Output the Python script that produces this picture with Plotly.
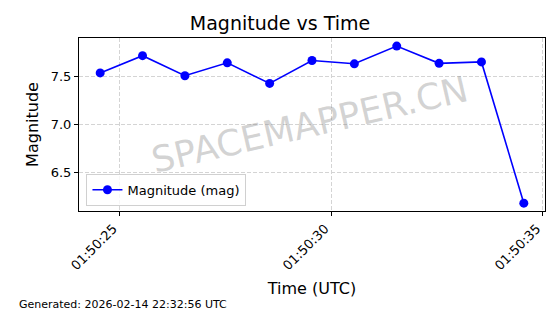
import plotly.graph_objects as go

times = ["2026-02-14 01:50:24.550", "2026-02-14 01:50:25.550", "2026-02-14 01:50:26.550",
         "2026-02-14 01:50:27.550", "2026-02-14 01:50:28.550", "2026-02-14 01:50:29.550",
         "2026-02-14 01:50:30.550", "2026-02-14 01:50:31.550", "2026-02-14 01:50:32.550",
         "2026-02-14 01:50:33.550", "2026-02-14 01:50:34.550"]
magnitude = [7.54, 7.72, 7.51, 7.645, 7.43, 7.67, 7.635, 7.82, 7.64, 7.655, 6.177]
y_ticks = [6.5, 7.0, 7.5]
y_tick_labels = ["6.5", "7.0", "7.5"]

font = "DejaVu Sans"
fig = go.Figure()
fig.add_trace(go.Scatter(
    x=times, y=magnitude, mode="lines+markers", name="Magnitude (mag)",
    line=dict(color="#0000ff", width=1.6),
    marker=dict(color="#0000ff", size=9),
))

fig.update_layout(
    width=560, height=314,
    margin=dict(l=79, r=15, t=38, b=103),
    paper_bgcolor="white", plot_bgcolor="white",
    font=dict(family=font, color="black"),
    title=dict(text="Magnitude vs Time", x=0.5, xanchor="center", y=0.925, yanchor="middle",
               font=dict(size=19, family=font)),
    showlegend=True,
    legend=dict(x=0.016, y=0.03, xanchor="left", yanchor="bottom",
                bgcolor="rgba(255,255,255,0.8)", bordercolor="#d0d0d0", borderwidth=1,
                font=dict(size=13, family=font)),
)
fig.update_xaxes(
    type="date", range=["2026-02-14 01:50:24.050", "2026-02-14 01:50:35.050"],
    tickformat="%H:%M:%S", dtick=5000, tick0="2026-02-14 01:50:25",
    tickangle=-45, tickfont=dict(size=13, family=font), ticklabelshift=-6,
    ticks="outside", ticklen=4, tickcolor="black",
    showline=True, linecolor="black", linewidth=1, mirror=True,
    showgrid=True, gridcolor="#d4d4d4", griddash="4px,2px", gridwidth=0.8,
    title=dict(text="Time (UTC)", font=dict(size=16, family=font), standoff=10),
    zeroline=False,
)
fig.update_yaxes(
    range=[6.095, 7.905], tickvals=y_ticks, ticktext=y_tick_labels,
    tickfont=dict(size=13, family=font),
    ticks="outside", ticklen=4, tickcolor="black",
    showline=True, linecolor="black", linewidth=1, mirror=True,
    showgrid=True, gridcolor="#d4d4d4", griddash="4px,2px", gridwidth=0.8,
    title=dict(text="Magnitude", font=dict(size=16, family=font), standoff=8),
    zeroline=False,
)
fig.add_annotation(
    text="SPACEMAPPER.CN", xref="paper", yref="paper", x=0.495, y=0.5,
    showarrow=False, textangle=-13,
    font=dict(size=36, family=font, color="rgba(128,128,128,0.35)"),
)
fig.add_annotation(
    text="Generated: 2026-02-14 22:32:56 UTC", xref="paper", yref="paper",
    x=(17 - 79) / 466, y=(211 - 304) / 173, xanchor="left", yanchor="middle", showarrow=False,
    font=dict(size=11, family=font, color="black"),
)
fig.write_html("out.html")
